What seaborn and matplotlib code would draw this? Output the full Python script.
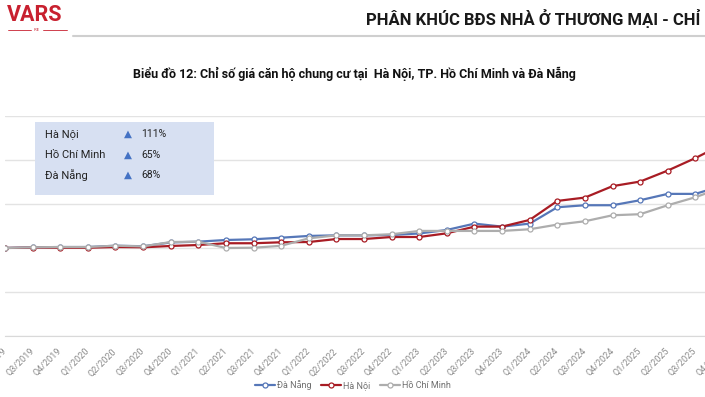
import numpy as np
import pandas as pd
import matplotlib
matplotlib.use("Agg")
import matplotlib.pyplot as plt
from matplotlib.lines import Line2D
from matplotlib.patches import Rectangle
import seaborn as sbn

# Quarter labels (Q2/2019 .. Q4/2025)
quarters = ["Q2/2019", "Q3/2019", "Q4/2019",
            "Q1/2020", "Q2/2020", "Q3/2020", "Q4/2020",
            "Q1/2021", "Q2/2021", "Q3/2021", "Q4/2021",
            "Q1/2022", "Q2/2022", "Q3/2022", "Q4/2022",
            "Q1/2023", "Q2/2023", "Q3/2023", "Q4/2023",
            "Q1/2024", "Q2/2024", "Q3/2024", "Q4/2024",
            "Q1/2025", "Q2/2025", "Q3/2025", "Q4/2025"]

# Price index values
da_nang = [100, 100.8, 101.1, 101.1, 102.6, 102.0, 106.3, 107.2, 109.1, 109.9,
           111.7, 113.7, 114.4, 114.4, 114.8, 116.5, 120.5, 127.7, 124.3, 127.7,
           146.3, 148.6, 148.6, 154.3, 161.5, 161.5, 171.0]
ha_noi = [100, 100.5, 100.3, 100.3, 101.1, 100.8, 102.3, 103.4, 105.4, 105.4,
          106.5, 106.8, 110.2, 110.2, 112.5, 112.5, 116.7, 124.3, 124.3, 131.9,
          153.5, 157.3, 170.3, 175.5, 188.0, 202.2, 218.0]
ho_chi_minh = [100, 100.8, 101.1, 101.1, 102.6, 101.8, 106.8, 107.2, 100.0, 100.3,
               102.5, 111.0, 114.4, 114.4, 115.6, 119.4, 119.4, 119.4, 119.4, 121.3,
               126.6, 130.4, 137.2, 138.4, 148.6, 157.7, 169.0]

cities = ["Đà Nẵng", "Hà Nội", "Hồ Chí Minh"]
colors = {"Đà Nẵng": "#5677B8", "Hà Nội": "#A81C24", "Hồ Chí Minh": "#ADADAD"}

# growth summary in the box
box_names = ["Hà Nội", "Hồ Chí Minh", "Đà Nẵng"]
box_pct = ["111%", "65%", "68%"]

df = pd.DataFrame({
    "idx": list(range(len(quarters))) * 3,
    "value": da_nang + ha_noi + ho_chi_minh,
    "city": sum([[c] * len(quarters) for c in cities], []),
})

sbn.set_style("white")
plt.rcParams['font.family'] = ['Roboto', 'DejaVu Sans']

W, H = 705, 397
fig = plt.figure(figsize=(W / 100, H / 100), dpi=100)

# plot area runs off the right edge (cropped screenshot)
x0, x1 = 5, 723
y_bot, y_top = 336, 116
ax = fig.add_axes([x0 / W, 1 - y_bot / H, (x1 - x0) / W, (y_bot - y_top) / H])

sbn.lineplot(data=df, x="idx", y="value", hue="city", hue_order=cities,
             style="city", style_order=cities, dashes=False,
             markers={c: "o" for c in cities}, palette=colors,
             markersize=3.6, markerfacecolor="white", markeredgewidth=0.9,
             linewidth=1.6, ax=ax, legend=False)
# seaborn draws white marker edges; use the line colour instead
for ln in ax.lines:
    ln.set_markeredgecolor(ln.get_color())

ax.set_xlim(0, len(quarters) - 1)
ax.set_ylim(0, 250)
ax.set_yticks([0, 50, 100, 150, 200, 250])
ax.set_yticklabels([])
ax.tick_params(axis="y", length=0)
ax.grid(True, axis="y", color="#E3E3E3", linewidth=1.0)
ax.set_xticks(range(len(quarters)))
ax.set_xticklabels(quarters, rotation=45, ha="right", va="center",
                   rotation_mode="anchor", fontsize=6.5, color="#8A8A8A")
ax.tick_params(axis="x", length=3, color="#D9D9D9", pad=7, direction="out")
for s in ["top", "right", "left"]:
    ax.spines[s].set_visible(False)
ax.spines["bottom"].set_color("#D9D9D9")
ax.set_xlabel("")
ax.set_ylabel("")
ax.set_axisbelow(True)

# summary box
box = Rectangle((35 / W, 1 - 195 / H), 179 / W, 73 / H, transform=fig.transFigure,
                facecolor="#D7E0F2", edgecolor="none", zorder=5)
fig.add_artist(box)
for i, (nm, pc) in enumerate(zip(box_names, box_pct)):
    yy = 1 - (134 + i * 20.5) / H
    fig.text(45 / W, yy, nm, fontsize=8, color="#222222", va="center", zorder=6)
    fig.text(128 / W, yy, "▲", fontsize=7.5, color="#4472C4", va="center",
             ha="center", family=["DejaVu Sans"], zorder=6)
    fig.text(141 / W, yy, pc, fontsize=7.5, color="#222222", va="center", zorder=6)

# legend at bottom
handles = [Line2D([0], [0], color=colors[c], lw=1.6, marker="o", markersize=3.6,
                  markerfacecolor="white", markeredgecolor=colors[c],
                  markeredgewidth=0.9) for c in cities]
leg = fig.legend(handles, cities, loc="center", bbox_to_anchor=(353 / W, 1 - 385 / H),
                 ncol=3, frameon=False, fontsize=6.5, handlelength=2.2,
                 columnspacing=1.0, handletextpad=0.3)
for t in leg.get_texts():
    t.set_color("#6E6E6E")

# title
fig.text(354 / W, 1 - 74 / H,
         "Biểu đồ 12: Chỉ số giá căn hộ chung cư tại  Hà Nội, TP. Hồ Chí Minh và Đà Nẵng",
         ha="center", va="center", fontsize=9.0, fontweight="bold", color="#111111")

# page header
fig.text(700 / W, 1 - 18 / H, "PHÂN KHÚC BĐS NHÀ Ở THƯƠNG MẠI - CHỈ",
         ha="right", va="center", fontsize=12, fontweight="bold", color="#1A1A1A")
fig.add_artist(Line2D([73 / W, 1.0], [1 - 36 / H, 1 - 36 / H], color="#CFCFCF",
                      lw=1.5, transform=fig.transFigure))
fig.text(7 / W, 1 - 15 / H, "VARS", ha="left", va="center", fontsize=15.5,
         fontweight="bold", color="#C8202F")
fig.text(37 / W, 1 - 30 / H, "IRE", ha="center", va="center", fontsize=3,
         color="#C8202F")
fig.add_artist(Line2D([8 / W, 31 / W], [1 - 30 / H, 1 - 30 / H], color="#C8202F",
                      lw=0.6, transform=fig.transFigure))
fig.add_artist(Line2D([43 / W, 67 / W], [1 - 30 / H, 1 - 30 / H], color="#C8202F",
                      lw=0.6, transform=fig.transFigure))

fig.savefig("out.png", dpi=100)
